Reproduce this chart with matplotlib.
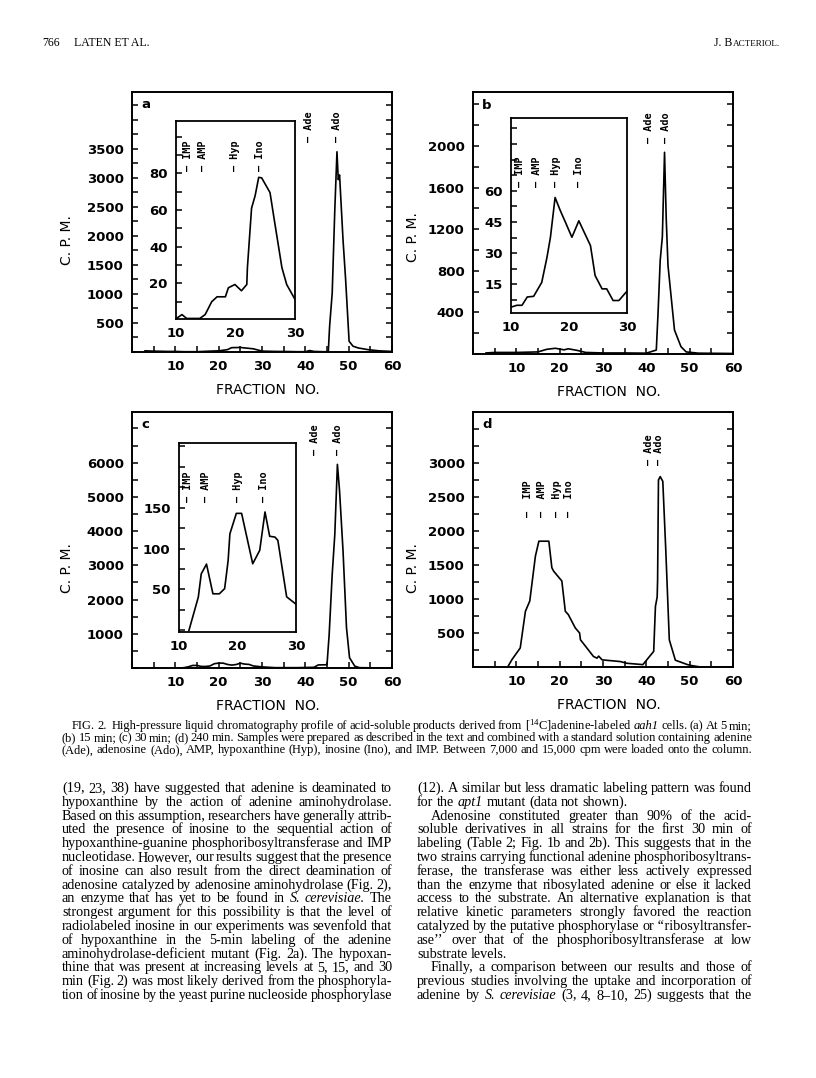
import numpy as np
import matplotlib
matplotlib.use("Agg")
import matplotlib.pyplot as plt
from matplotlib.ticker import FixedLocator, MultipleLocator
import matplotlib.transforms as mtrans

W, H = 816, 1078
plt.rcParams["font.family"] = ["DejaVu Sans"]
plt.rcParams["mathtext.fontset"] = "custom"
plt.rcParams["mathtext.rm"] = "Liberation Serif"

# ---- data (fraction number, c.p.m.) ----
a_x = [3, 5, 8, 10, 12, 15, 18, 20, 22, 23, 25, 28, 30, 33, 36, 38, 40, 41, 42, 44,
       45.3, 45.6, 46.2, 46.8, 47.3, 47.6, 47.9, 48.7, 49.3, 50.1, 51, 52.2, 54.5, 57, 60]
a_y = [20, 15, 10, 10, 5, 5, 15, 20, 40, 75, 78, 55, 15, 10, 8, 5, 5, 25, 10, 5,
       5, 440, 1015, 2450, 3450, 2970, 3050, 1930, 1245, 185, 100, 70, 40, 20, 10]
a_in_x = [10.2, 11, 11.8, 14, 14.9, 16, 16.9, 18.3, 18.8, 19.9, 21, 21.9, 22, 22.7,
          23.3, 23.9, 24.4, 25.8, 26.5, 27.8, 28.6, 30]
a_in_y = [1.2, 3, 0.9, 0.9, 3, 10, 12.7, 12.7, 17.6, 19.4, 16, 19.4, 28.5, 61,
          67.8, 77.8, 77.5, 69.5, 55, 28.6, 19.4, 11.3]

b_x = [3, 5, 10, 15, 17, 19, 21, 22, 24, 26, 30, 35, 40, 42.3, 42.7, 43.2, 43.7,
       44.2, 44.6, 45, 46.5, 48, 49.2, 52, 60]
b_y = [10, 15, 15, 20, 45, 55, 40, 50, 35, 15, 10, 10, 8, 38, 390, 900, 1130,
       1940, 1290, 850, 230, 70, 20, 8, 5]
b_in_x = [10, 11, 11.9, 12.8, 13.9, 15.3, 16.2, 16.8, 17.6, 18.5, 19.4, 20.5, 21.7,
          22.5, 23.7, 24.5, 25.7, 26.5, 27.6, 28.6, 30]
b_in_y = [4.1, 5, 5, 9, 9.3, 16, 28, 37.7, 56.8, 50.5, 44.8, 37.7, 45.6,
          40.8, 33.7, 19.3, 12.9, 12.9, 7.3, 7.3, 11.8]

c_x = [11, 12, 13, 14, 15, 16, 17, 18, 19, 20, 21, 22, 23, 24, 25, 26, 27, 28, 30,
       33, 38, 42, 43, 45, 45.5, 46.2, 46.8, 47.4, 47.9, 48.7, 49.5, 50.2, 51.4,
       52.5, 55, 60]
c_y = [0, 10, 35, 75, 75, 45, 45, 60, 125, 143, 143, 105, 85, 100, 140, 114, 105,
       60, 32, 10, 10, 20, 90, 95, 980, 2735, 3900, 5950, 5170, 3420, 1175, 300, 55,
       10, 5, 5]
c_in_x = [11.7, 13.3, 13.8, 14.7, 15.8, 16.9, 17.8, 18.1, 18.4, 18.7, 19.8, 20.7,
          22.6, 23.8, 24.7, 25.5, 26.4, 26.9, 28.4, 30]
c_in_y = [0, 40.6, 69, 81, 44.7, 44.7, 51, 68, 85.5, 118, 143, 143, 81.4, 97.8,
          144.7, 115, 114, 110, 41, 32]

d_x = [8, 9, 10.9, 12.1, 13.1, 14.4, 15.2, 17.5, 18.2, 18.6, 20.5, 21.3, 22, 23.6,
       24.6, 24.8, 27.8, 28.6, 29, 29.8, 34, 35.5, 39.2, 41.7, 42.1, 42.5, 42.6,
       42.8, 43.2, 43.8, 44.5, 45.3, 46.7, 49.5, 50.5, 52.5, 55, 60]
d_y = [0, 110, 280, 820, 970, 1630, 1850, 1850, 1460, 1410, 1265, 820, 770, 575,
       500, 400, 155, 130, 160, 105, 80, 55, 35, 230, 890, 1030, 1280, 2750, 2800,
       2730, 1700, 400, 100, 35, 20, 0, 0, 0]

standards = ["IMP", "AMP", "Hyp", "Ino"]
a_std = [11.95, 14.6, 19.9, 24.1]
b_std = [11.5, 14.5, 17.8, 21.8]
c_std = [11.5, 14.6, 20.1, 24.6]
d_std = [12.8, 15.9, 19.5, 22.2]
peaks = ["Ade", "Ado"]
a_pk = [40.9, 47.4]
b_pk = [40.7, 44.5]
c_pk = [42.2, 47.5]
d_pk = [40.7, 43.0]

fig = plt.figure(figsize=(W / 100, H / 100), dpi=100)


def box(l, t, r, b):
    return [l / W, 1 - b / H, (r - l) / W, (b - t) / H]


tickfont = dict(family="DejaVu Sans", weight="bold", size=9.5)
markfont = dict(family="DejaVu Sans Mono", weight="bold", size=7.3)


def style(ax, lw=1.4):
    for s in ax.spines.values():
        s.set_linewidth(lw)
    for lab in ax.get_xticklabels() + ax.get_yticklabels():
        lab.set_fontproperties(matplotlib.font_manager.FontProperties(**tickfont))


def main_panel(rect, xs, ys, ymax, ymajor, yminor, letter, pk, pky, ylab_x, ylab_y):
    ax = fig.add_axes(box(*rect))
    ax.plot(xs, ys, color="black", lw=1.2)
    ax.set_xlim(0, 60)
    ax.set_ylim(0, ymax)
    ax.xaxis.set_major_locator(FixedLocator([10, 20, 30, 40, 50, 60]))
    ax.xaxis.set_minor_locator(MultipleLocator(5))
    ax.yaxis.set_major_locator(FixedLocator(ymajor))
    ax.yaxis.set_minor_locator(MultipleLocator(yminor))
    ax.tick_params(which="both", direction="in", left=True, right=True, top=False,
                   bottom=True, length=4, width=1.1, pad=6)
    style(ax)
    ax.text(0.035, 0.975, letter, transform=ax.transAxes, ha="left", va="top",
            fontsize=9.5, weight="bold")
    tr = mtrans.blended_transform_factory(ax.transData, ax.transAxes)
    for name, xp in zip(peaks, pk):
        ax.text(xp, pky, "– " + name, transform=tr, rotation=90, ha="center",
                va="bottom", **markfont)
    fig.text((rect[0] + rect[2]) / 2 / W + 0.007, 1 - (rect[3] + 38) / H,
             "FRACTION  NO.", ha="center", va="center", fontsize=10)
    fig.text(ylab_x / W, 1 - ylab_y / H, "C. P. M.", rotation=90, ha="center",
             va="center", fontsize=10)
    return ax


def inset(rect, xs, ys, ylim, ymajor, yminor, std, sty):
    ax = fig.add_axes(box(*rect))
    ax.plot(xs, ys, color="black", lw=1.2)
    ax.set_xlim(10, 30)
    ax.set_ylim(*ylim)
    ax.xaxis.set_major_locator(FixedLocator([10, 20, 30]))
    ax.yaxis.set_major_locator(FixedLocator(ymajor))
    ax.yaxis.set_minor_locator(MultipleLocator(yminor))
    ax.tick_params(which="both", direction="in", left=True, bottom=False,
                   length=4, width=1.1, pad=6)
    style(ax, 1.3)
    tr = mtrans.blended_transform_factory(ax.transData, ax.transAxes)
    for name, xp in zip(standards, std):
        ax.text(xp, sty, "– " + name, transform=tr, rotation=90, ha="center",
                va="bottom", **markfont)
    return ax


# panel a
main_panel((132, 92, 392, 352), a_x, a_y, 4480, list(range(500, 4000, 500)), 250,
           "a", a_pk, 0.808, 67, 240)
inset((176, 121, 295, 319), a_in_x, a_in_y, (0.6, 108.5), [20, 40, 60, 80], 10,
      a_std, 0.745)

# panel b
main_panel((473, 92, 733, 354), b_x, b_y, 2520, [400, 800, 1200, 1600, 2000], 200,
           "b", b_pk, 0.804, 413, 237)
inset((511, 118, 627, 313), b_in_x, b_in_y, (1.3, 95), [15, 30, 45, 60], 7.5,
      b_std, 0.648)

# panel c
main_panel((132, 412, 392, 668), c_x, c_y, 7480, list(range(1000, 7000, 1000)), 500,
           "c", c_pk, 0.832, 67, 568)
inset((179, 443, 296, 632), c_in_x, c_in_y, (-2, 229), [50, 100, 150], 25,
      c_std, 0.69)

# panel d
axd = main_panel((473, 412, 733, 667), d_x, d_y, 3750, list(range(500, 3500, 500)),
                 250, "d", d_pk, 0.792, 413, 568)
trd = mtrans.blended_transform_factory(axd.transData, axd.transAxes)
for name, xp in zip(standards, d_std):
    axd.text(xp, 0.588, "–  " + name, transform=trd, rotation=90, ha="center",
             va="bottom", **markfont)

# ---- page text ----
renderer = fig.canvas.get_renderer()
SERIF = "Liberation Serif"


def put_line(tokens, x0, x1, y, size, justify=True):
    while True:
        objs = []
        for tok in tokens:
            ital = tok.startswith("*")
            s = tok[1:] if ital else tok
            objs.append(fig.text(0, 1 - y / H, s, family=SERIF, size=size,
                                 style="italic" if ital else "normal",
                                 va="baseline"))
        widths = [o.get_window_extent(renderer).width for o in objs]
        sw = size * 0.25 * 100 / 72
        if justify and len(objs) > 1:
            gap = (x1 - x0 - sum(widths)) / (len(objs) - 1)
        else:
            gap = sw
        if gap >= 0.55 * sw or size < 5:
            break
        for o in objs:
            o.remove()
        size -= 0.15
    x = x0
    for o, w in zip(objs, widths):
        o.set_x(x / W)
        x += w + gap


left_col = [
    "(19, 23, 38) have suggested that adenine is deaminated to",
    "hypoxanthine by the action of adenine aminohydrolase.",
    "Based on this assumption, researchers have generally attrib-",
    "uted the presence of inosine to the sequential action of",
    "hypoxanthine-guanine phosphoribosyltransferase and IMP",
    "nucleotidase. However, our results suggest that the presence",
    "of inosine can also result from the direct deamination of",
    "adenosine catalyzed by adenosine aminohydrolase (Fig. 2),",
    "an enzyme that has yet to be found in *S. *cerevisiae. The",
    "strongest argument for this possibility is that the level of",
    "radiolabeled inosine in our experiments was sevenfold that",
    "of hypoxanthine in the 5-min labeling of the adenine",
    "aminohydrolase-deficient mutant (Fig. 2a). The hypoxan-",
    "thine that was present at increasing levels at 5, 15, and 30",
    "min (Fig. 2) was most likely derived from the phosphoryla-",
    "tion of inosine by the yeast purine nucleoside phosphorylase",
]
right_col = [
    "(12). A similar but less dramatic labeling pattern was found",
    "for the *apt1 mutant (data not shown).",
    "Adenosine constituted greater than 90% of the acid-",
    "soluble derivatives in all strains for the first 30 min of",
    "labeling (Table 2; Fig. 1b and 2b). This suggests that in the",
    "two strains carrying functional adenine phosphoribosyltrans-",
    "ferase, the transferase was either less actively expressed",
    "than the enzyme that ribosylated adenine or else it lacked",
    "access to the substrate. An alternative explanation is that",
    "relative kinetic parameters strongly favored the reaction",
    "catalyzed by the putative phosphorylase or \u2018\u2018ribosyltransfer-",
    "ase\u2019\u2019 over that of the phosphoribosyltransferase at low",
    "substrate levels.",
    "Finally, a comparison between our results and those of",
    "previous studies involving the uptake and incorporation of",
    "adenine by *S. *cerevisiae (3, 4, 8\u201310, 25) suggests that the",
]
right_indent = {2, 13}
right_ragged = {1, 12}

caption = [
    "FIG. 2.  High-pressure liquid chromatography profile of acid-soluble products "
    "derived from [$\\mathregular{^{14}}$C]adenine-labeled *aah1 cells. (a) At 5 min;",
    "(b) 15 min; (c) 30 min; (d) 240 min. Samples were prepared as described in the "
    "text and combined with a standard solution containing adenine",
    "(Ade), adenosine (Ado), AMP, hypoxanthine (Hyp), inosine (Ino), and IMP. Between "
    "7,000 and 15,000 cpm were loaded onto the column.",
]

for i, line in enumerate(caption):
    put_line(line.split(" "), 72 if i == 0 else 62, 752, 729 + 12 * i, 9.0)

for i, line in enumerate(left_col):
    put_line(line.split(" "), 62, 392, 792 + 13.8 * i, 10.2)

for i, line in enumerate(right_col):
    put_line(line.split(" "), 431 if i in right_indent else 417, 752,
             792 + 13.8 * i, 10.2, justify=i not in right_ragged)

# running head
fig.text(42 / W, 1 - 46 / H, "766", family=SERIF, size=8.5, va="baseline")
fig.text(74 / W, 1 - 46 / H, "LATEN ET AL.", family=SERIF, size=8.5, va="baseline")
jb = fig.text(0, 1 - 46 / H, "J. B", family=SERIF, size=8.5, va="baseline")
ac = fig.text(0, 1 - 46 / H, "ACTERIOL.", family=SERIF, size=6.6, va="baseline")
w1 = jb.get_window_extent(renderer).width
w2 = ac.get_window_extent(renderer).width
jb.set_x((780 - w1 - w2) / W)
ac.set_x((780 - w2) / W)

fig.savefig("out.png", dpi=100)
